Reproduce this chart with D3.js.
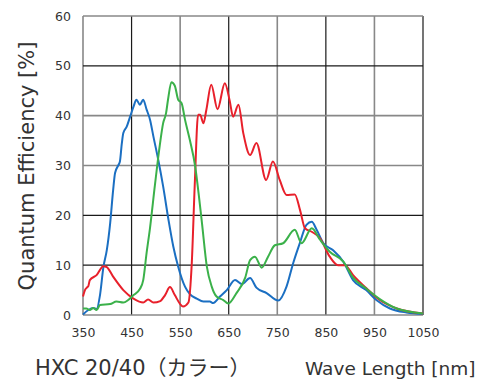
<!DOCTYPE html>
<html>
<head>
<meta charset="utf-8">
<script src="https://cdn.jsdelivr.net/npm/d3@7"></script>
<style>
  body { margin: 0; background: #fff; }
  text { font-family: "DejaVu Sans", Verdana, sans-serif; fill: #333; }
</style>
</head>
<body>
<figure id="qe" style="margin:0"></figure>
<script>
const xTicks = [350, 450, 550, 650, 750, 850, 950, 1050];
const yTicks = [0, 10, 20, 30, 40, 50, 60];

const blueWave = [350, 361, 371, 378, 385, 392, 399, 406, 412, 416, 423, 426, 430, 433, 440, 447, 454, 460, 467, 474, 481, 488, 495, 505, 515, 526, 536, 546, 560, 570, 584, 598, 611, 618, 632, 646, 663, 677, 694, 707, 728, 752, 769, 783, 797, 810, 821, 831, 845, 865, 886, 906, 933, 954, 982, 1016, 1050];
const blueQE = [0.1, 1.0, 1.4, 1.2, 4, 9.6, 13, 18.5, 25, 28.5, 30.1, 30.8, 34.5, 36.5, 37.8, 39.8, 41.8, 43.2, 42.2, 43.2, 41.2, 39.2, 35.8, 31.1, 25.8, 19.1, 13.7, 9.7, 5.7, 4.2, 3.3, 2.7, 2.7, 2.4, 3.7, 5.0, 7.0, 6.2, 7.4, 5.5, 4.4, 2.9, 5.7, 10.5, 14.6, 18.1, 18.7, 17.1, 14.4, 13, 10.7, 7, 5, 3, 1.3, 0.5, 0.2];

const redWave = [350, 354, 358, 361, 364, 378, 392, 399, 412, 433, 454, 474, 484, 495, 509, 519, 529, 539, 550, 556, 567, 574, 580, 587, 591, 598, 604, 614, 627, 642, 652, 659, 670, 680, 694, 707, 727, 741, 755, 769, 786, 797, 807, 821, 838, 858, 875, 889, 906, 933, 961, 996, 1050];
const redQE = [3.7, 5, 5.5, 5.8, 7.0, 8, 9.8, 9.6, 7.7, 5.0, 3.3, 2.5, 3.1, 2.5, 2.8, 4.0, 5.6, 4.0, 2.2, 1.7, 2.5, 10.5, 26, 40.2, 40.2, 38.5, 41.2, 46.2, 41.3, 46.5, 43, 39.8, 42.2, 36.5, 32.1, 34.5, 27.1, 30.8, 27.1, 24.1, 24.2, 21, 17.4, 16.7, 15.4, 11.7, 10.0, 10.0, 8, 5.4, 3, 1.3, 0.3];

const greenWave = [350, 357, 364, 371, 378, 385, 406, 419, 433, 443, 454, 467, 474, 481, 488, 498, 508, 515, 521, 525, 532, 539, 546, 553, 560, 570, 581, 588, 595, 605, 615, 625, 639, 649, 666, 684, 694, 704, 718, 731, 745, 762, 786, 800, 821, 838, 858, 886, 906, 933, 961, 996, 1050];
const greenQE = [1.3, 1.3, 1.0, 1.4, 1.0, 2.0, 2.2, 2.7, 2.5, 3.0, 4.0, 5.2, 7, 12.5, 17.5, 26, 34, 38.5, 40.5, 43.2, 46.7, 46.0, 43.2, 42.5, 39.2, 35.1, 29.8, 24.4, 18.4, 9.7, 5.7, 3.7, 3.0, 2.3, 4.4, 7.5, 11, 11.7, 9.5, 11.7, 14, 14.4, 17.1, 14.4, 17.4, 15.1, 12.7, 10.7, 7.5, 5.3, 3.2, 1.3, 0.3];

const width = 487, height = 380;
const plotLeft = 83, plotRight = 423, plotTop = 16, plotBottom = 315;

const svg = d3.select('figure#qe')
  .append('svg')
  .attr('width', width)
  .attr('height', height);

const x = d3.scaleLinear().domain([350, 1050]).range([plotLeft, plotRight]);
const y = d3.scaleLinear().domain([0, 60]).range([plotBottom, plotTop]);

// grid: some lines black, some grey like the original
const darkX = [450, 650, 850, 1050];
const darkY = [10, 20, 50];

svg.append('g')
  .selectAll('line')
  .data(xTicks)
  .enter()
  .append('line')
  .attr('x1', d => x(d)).attr('x2', d => x(d))
  .attr('y1', plotTop).attr('y2', plotBottom)
  .attr('stroke', d => darkX.includes(d) ? '#1a1a1a' : '#888')
  .attr('stroke-width', d => darkX.includes(d) ? 1.2 : 1.6);

svg.append('g')
  .selectAll('line')
  .data(yTicks)
  .enter()
  .append('line')
  .attr('x1', plotLeft).attr('x2', plotRight)
  .attr('y1', d => y(d)).attr('y2', d => y(d))
  .attr('stroke', d => darkY.includes(d) ? '#1a1a1a' : '#888')
  .attr('stroke-width', d => darkY.includes(d) ? 1.2 : 1.6);

// tick labels
const xAxis = svg.append('g')
  .attr('transform', 'translate(0,' + (plotBottom + 13) + ')')
  .call(d3.axisBottom(x).tickValues(xTicks).tickFormat(d3.format('d')).tickSize(0).tickPadding(0));
xAxis.select('.domain').remove();
xAxis.selectAll('text')
  .attr('dy', '0.71em')
  .style('font-size', '12.5px')
  .style('font-family', '"DejaVu Sans", sans-serif')
  .attr('fill', '#333');

const yAxis = svg.append('g')
  .attr('transform', 'translate(' + (plotLeft - 12) + ',0)')
  .call(d3.axisLeft(y).tickValues(yTicks).tickSize(0).tickPadding(0));
yAxis.select('.domain').remove();
yAxis.selectAll('text')
  .style('font-size', '12.5px')
  .style('font-family', '"DejaVu Sans", sans-serif')
  .attr('fill', '#333');

// curves
const series = [
  { wave: blueWave, qe: blueQE, color: '#1b6fc2' },
  { wave: redWave, qe: redQE, color: '#e8202b' },
  { wave: greenWave, qe: greenQE, color: '#3bb14a' }
];

const line = d3.line()
  .x(d => x(d[0]))
  .y(d => y(d[1]))
  .curve(d3.curveMonotoneX);

svg.append('g')
  .selectAll('path')
  .data(series)
  .enter()
  .append('path')
  .attr('d', s => line(d3.zip(s.wave, s.qe)))
  .attr('fill', 'none')
  .attr('stroke', s => s.color)
  .attr('stroke-width', 2)
  .attr('stroke-linejoin', 'round');

// labels
svg.append('text')
  .attr('transform', 'translate(34,166) rotate(-90)')
  .attr('text-anchor', 'middle')
  .style('font-size', '21px')
  .text('Quantum Efficiency [%]');

svg.append('text')
  .attr('x', 35).attr('y', 375)
  .style('font-size', '21px')
  .style('font-family', '"DejaVu Sans", "Noto Sans CJK JP", sans-serif')
  .text('HXC 20/40（カラー）');

svg.append('text')
  .attr('x', 305).attr('y', 375)
  .style('font-size', '18.5px')
  .text('Wave Length [nm]');
</script>
</body>
</html>
